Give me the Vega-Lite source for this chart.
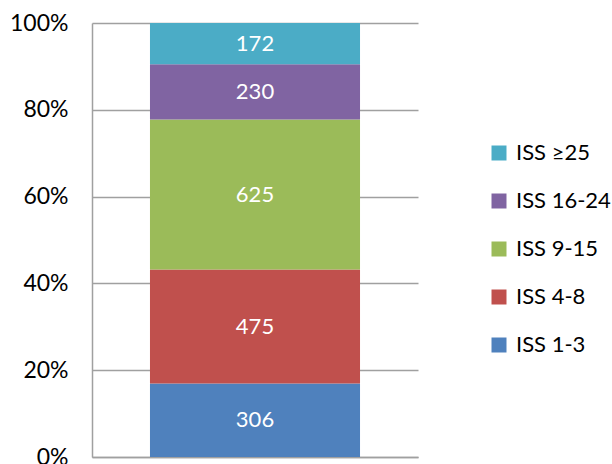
{
  "$schema": "https://vega.github.io/schema/vega-lite/v6.json",
  "width": 326,
  "height": 434,
  "autosize": "none",
  "padding": {"left": 92, "top": 23, "right": 194, "bottom": 7},
  "background": "white",
  "config": {"view": {"stroke": null}, "font": "Lato"},
  "data": {
    "values": [
      {"group": "All", "category": "ISS 1-3", "idx": 1, "count": 306},
      {"group": "All", "category": "ISS 4-8", "idx": 2, "count": 475},
      {"group": "All", "category": "ISS 9-15", "idx": 3, "count": 625},
      {"group": "All", "category": "ISS 16-24", "idx": 4, "count": 230},
      {"group": "All", "category": "ISS ≥25", "idx": 5, "count": 172}
    ]
  },
  "transform": [
    {"stack": "count", "groupby": ["group"], "offset": "normalize", "sort": [{"field": "idx", "order": "ascending"}], "as": ["y0", "y1"]},
    {"calculate": "(datum.y0 + datum.y1) / 2", "as": "ymid"}
  ],
  "encoding": {
    "x": {"field": "group", "type": "nominal", "scale": {"paddingInner": 0, "paddingOuter": 0.276}, "axis": {"labels": false, "ticks": false, "title": null, "domainColor": "#A0A0A0", "domainWidth": 1.5}}
  },
  "layer": [
    {
      "mark": {"type": "bar"},
      "encoding": {
        "y": {"field": "y0", "type": "quantitative", "scale": {"domain": [0, 1], "nice": false}, "axis": {"format": "%", "title": null, "values": [0, 0.2, 0.4, 0.6, 0.8, 1], "labelOverlap": false, "labelBound": false, "ticks": false, "labelPadding": 24, "labelFontSize": 23, "labelColor": "#000000", "labelFont": "Lato", "gridColor": "#A0A0A0", "gridWidth": 1.5, "domainColor": "#A0A0A0", "domainWidth": 1.5}},
        "y2": {"field": "y1"},
        "color": {
          "field": "category",
          "type": "nominal",
          "scale": {
            "domain": ["ISS ≥25", "ISS 16-24", "ISS 9-15", "ISS 4-8", "ISS 1-3"],
            "range": ["#4BACC6", "#8064A2", "#9BBB59", "#C0504D", "#4F81BD"]
          },
          "legend": {
            "title": null,
            "orient": "none",
            "legendX": 396,
            "legendY": 119,
            "padding": 0,
            "symbolType": "square",
            "symbolSize": 225,
            "symbolStrokeWidth": 0,
            "labelFontSize": 22,
            "labelFont": "Lato",
            "labelColor": "#000000",
            "labelOffset": 6,
            "rowPadding": 26
          }
        }
      }
    },
    {
      "mark": {"type": "text", "color": "white", "fontSize": 22, "font": "Lato", "baseline": "middle"},
      "encoding": {
        "y": {"field": "ymid", "type": "quantitative"},
        "text": {"field": "count", "type": "quantitative"}
      }
    }
  ]
}
